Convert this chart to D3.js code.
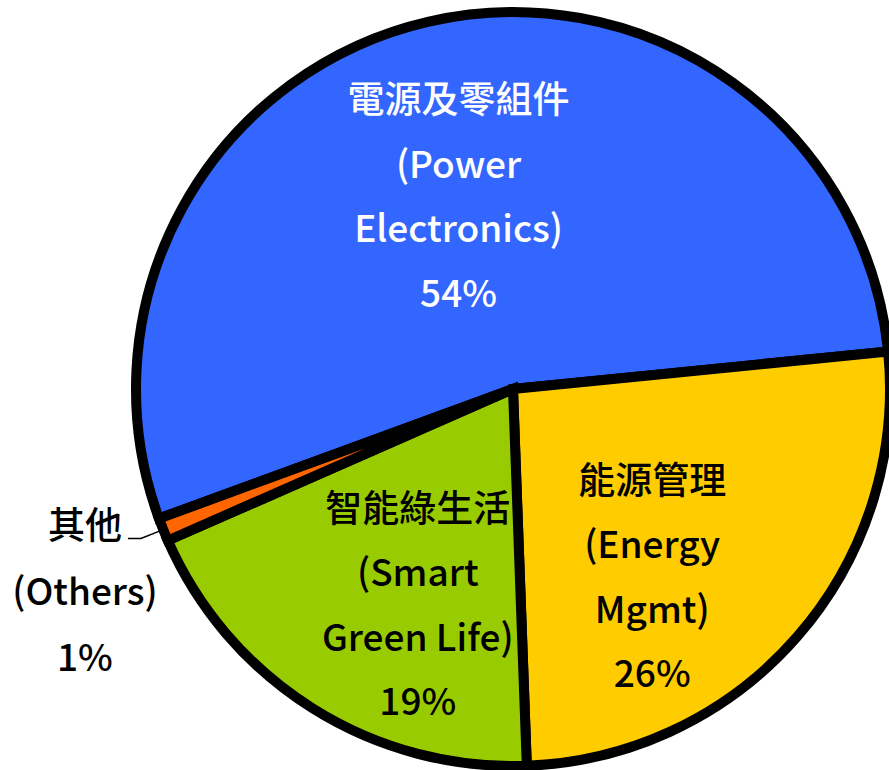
<!DOCTYPE html>
<html>
<head>
<meta charset="utf-8">
<script src="https://cdn.jsdelivr.net/npm/d3@7"></script>
<style>
    body { margin: 0; background: #fff; }
    svg { display: block; }
    .label { font-family: "Noto Sans CJK TC", "Noto Sans", sans-serif; font-size: 37px; font-weight: 500; }
</style>
</head>
<body>
<div class="wrapper"></div>
<script>
let width = 889;
let height = 770;

// chart data
let categories = ["電源及零組件", "能源管理", "智能綠生活", "其他"];
let englishNames = [["(Power", "Electronics)"], ["(Energy", "Mgmt)"], ["(Smart", "Green Life)"], ["(Others)"]];
let shares = [54, 26, 19, 1];
let colors = ["#3366ff", "#ffcc00", "#99cc00", "#ff6600"];
let textColors = ["#ffffff", "#000000", "#000000", "#000000"];

let cx = 513;
let cy = 389;
let radius = 377;
let lineGap = 64.5;

let data = categories.map(function (c, i) {
    return {name: c, english: englishNames[i], value: shares[i], color: colors[i], text: textColors[i]};
});

let startDeg = -110.1;
let pie = d3.pie()
    .sort(null)
    .value(function (d) {return d.value})
    .startAngle(startDeg * Math.PI / 180)
    .endAngle((startDeg + 360) * Math.PI / 180);

let arc = d3.arc().innerRadius(0).outerRadius(radius);

let svg = d3.select(".wrapper")
    .append("svg")
    .attr("width", width)
    .attr("height", height);

let g = svg.append("g")
    .attr("transform", "translate(" + cx + "," + cy + ")");

let arcs = pie(data);

g.selectAll(".slice")
    .data(arcs)
    .enter()
    .append("path")
    .classed("slice", true)
    .attr("d", arc)
    .attr("fill", function (d) {return d.data.color})
    .attr("stroke", "#000")
    .attr("stroke-width", 10)
    .attr("stroke-linejoin", "miter");

// label anchors: angle (deg from top, clockwise) and distance from centre for the middle of each block
let labelPlace = [
    {angle: -15.8, r: 200},
    {angle: 143.5, r: 234},
    {angle: 203.8, r: 236}
];

function polar(angleDeg, r) {
    let a = angleDeg * Math.PI / 180;
    return [r * Math.sin(a), -r * Math.cos(a)];
}

arcs.slice(0, 3).forEach(function (d, i) {
    let p = polar(labelPlace[i].angle, labelPlace[i].r);
    let lines = [d.data.name].concat(d.data.english).concat([d.data.value + "%"]);
    let top = p[1] - (lines.length - 1) * lineGap / 2;
    let t = g.append("text")
        .classed("label", true)
        .attr("text-anchor", "middle")
        .attr("fill", d.data.text);
    lines.forEach(function (s, j) {
        t.append("tspan")
            .attr("x", p[0])
            .attr("y", top + j * lineGap)
            .attr("dy", "0.36em")
            .text(s);
    });
});

// small slice: outside label with leader line
let other = arcs[3];
let midDeg = (other.startAngle + other.endAngle) / 2 * 180 / Math.PI;
let p1 = polar(midDeg, radius);
let p2 = polar(midDeg, radius + 24);
let p3 = [p2[0] - 13, p2[1]];

g.append("polyline")
    .attr("points", [p1, p2, p3].map(function (p) {return p.join(",")}).join(" "))
    .attr("fill", "none")
    .attr("stroke", "#000")
    .attr("stroke-width", 1.5);

let otherLines = [other.data.name].concat(other.data.english).concat([other.data.value + "%"]);
let ot = g.append("text")
    .classed("label", true)
    .attr("text-anchor", "middle")
    .attr("fill", "#000");
otherLines.forEach(function (s, j) {
    ot.append("tspan")
        .attr("x", p3[0] - 43)
        .attr("y", p3[1] - 13 + j * 66)
        .attr("dy", "0.36em")
        .text(s);
});
</script>
</body>
</html>
